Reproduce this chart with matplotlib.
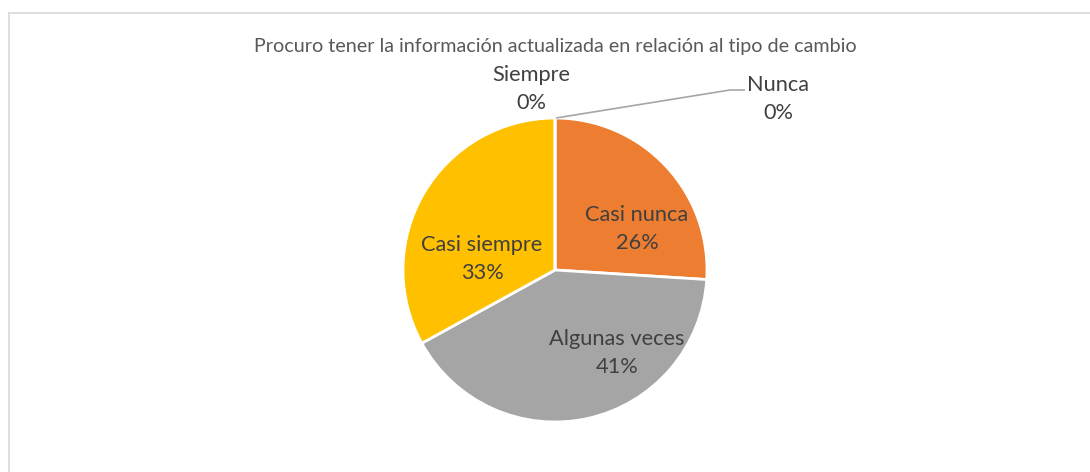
import matplotlib
matplotlib.use("Agg")
import matplotlib.pyplot as plt
from matplotlib.lines import Line2D
import numpy as np

TITLE = "Procuro tener la información actualizada en relación al tipo de cambio"
CATEGORIES = ["Nunca", "Casi nunca", "Algunas veces", "Casi siempre", "Siempre"]
PERCENTS = [0, 26, 41, 33, 0]
COLORS = ["#4472C4", "#ED7D31", "#A5A5A5", "#FFC000", "#5B9BD5"]

W, H = 1090, 472
CX, CY, R = 555, 270, 152  # pie centre / radius in pixels


def px(x, y):
    """pixel (from top-left) -> data coords of the full-figure axes"""
    return (x - CX) / R, (CY - y) / R


plt.rcParams["font.family"] = ["Lato", "DejaVu Sans"]

fig = plt.figure(figsize=(W / 100, H / 100), dpi=100)
fig.patch.set_facecolor("white")
ax = fig.add_axes([0, 0, 1, 1])

wedges, _ = ax.pie(PERCENTS, colors=COLORS, startangle=90, counterclock=False,
                   radius=1, center=(0, 0),
                   wedgeprops=dict(edgecolor="white", linewidth=2))
x0, y0 = px(0, H)
x1, y1 = px(W, 0)
ax.set_xlim(x0, x1)
ax.set_ylim(y0, y1)
ax.set_aspect("auto")
ax.axis("off")

# label positions (pixels)
label_pos = {
    "Nunca": (778, 99),
    "Casi nunca": (637, 229),
    "Algunas veces": (617, 353),
    "Casi siempre": (482, 259),
    "Siempre": (531, 89),
}
for cat, pct in zip(CATEGORIES, PERCENTS):
    lx, ly = px(*label_pos[cat])
    ax.text(lx, ly, f"{cat}\n{pct}%", ha="center", va="center", fontsize=15.7,
            color="#404040", linespacing=1.5)

# leader line for "Nunca"
lx, ly = zip(px(556, 118), px(730, 90), px(745, 90))
ax.plot(lx, ly, color="#A6A6A6", linewidth=1.2, solid_capstyle="butt")

fig.text(CX / W, 1 - 46.5 / H, TITLE, ha="center", va="center", fontsize=14.2,
         color="#595959")

# chart area border (top and left visible)
fig.add_artist(Line2D([8.5 / W, 1], [1 - 12.5 / H, 1 - 12.5 / H],
                      transform=fig.transFigure, color="#D9D9D9", linewidth=1.2))
fig.add_artist(Line2D([8.5 / W, 8.5 / W], [0, 1 - 12.5 / H],
                      transform=fig.transFigure, color="#D9D9D9", linewidth=1.2))

fig.savefig("out.png", dpi=100, facecolor="white")
